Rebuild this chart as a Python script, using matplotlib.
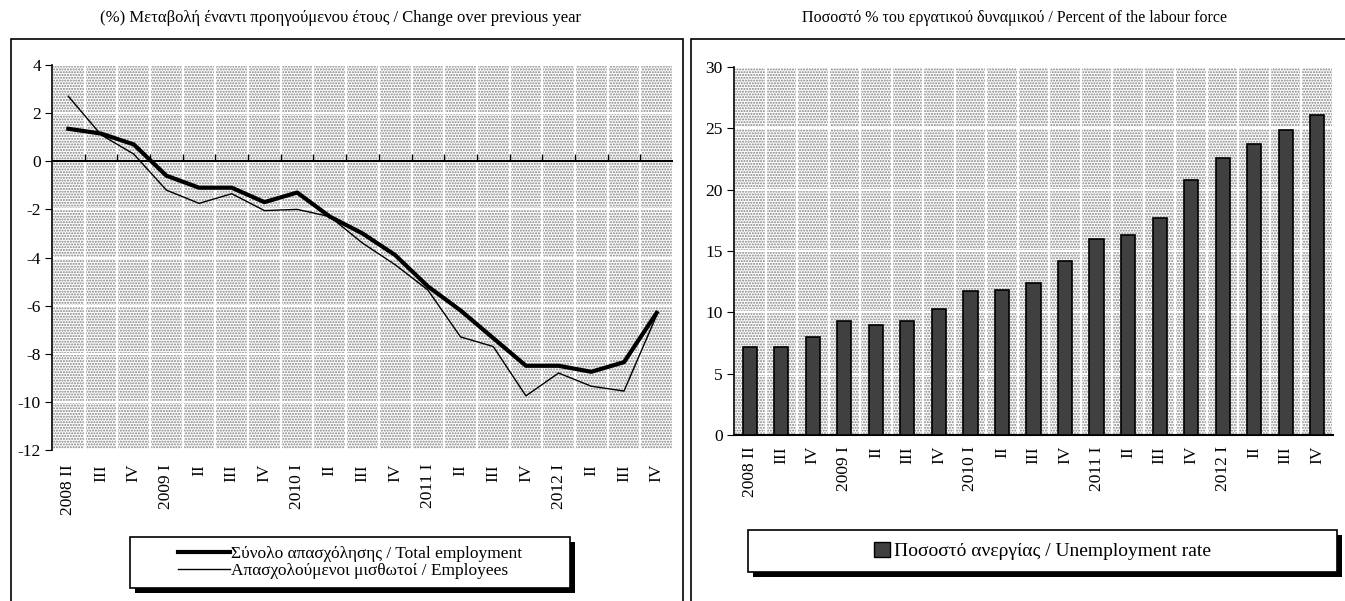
import matplotlib
matplotlib.use("Agg")
import matplotlib.pyplot as plt
from matplotlib.patches import Rectangle
from matplotlib.lines import Line2D
import numpy as np

plt.rcParams['font.family'] = ['Liberation Serif', 'DejaVu Serif']
plt.rcParams['axes.unicode_minus'] = False
plt.rcParams['hatch.linewidth'] = 1.0

# data
quarters = ["2008 II", "III", "IV", "2009 I", "II", "III", "IV", "2010 I", "II", "III", "IV",
            "2011 I", "II", "III", "IV", "2012 I", "II", "III", "IV"]
total_employment = [1.35, 1.15, 0.7, -0.6, -1.1, -1.1, -1.7, -1.3, -2.3, -3.0, -3.9,
                    -5.2, -6.2, -7.35, -8.5, -8.5, -8.75, -8.35, -6.3]
employees = [2.7, 1.1, 0.3, -1.2, -1.75, -1.35, -2.05, -2.0, -2.3, -3.4, -4.3,
             -5.35, -7.3, -7.7, -9.75, -8.8, -9.35, -9.55, -6.4]
unemployment = [7.2, 7.2, 8.0, 9.3, 9.0, 9.3, 10.3, 11.7, 11.8, 12.4, 14.2,
                16.0, 16.3, 17.7, 20.8, 22.6, 23.7, 24.9, 26.1]

left_title = "(%) Μεταβολή έναντι προηγούμενου έτους / Change over previous year"
right_title = "Ποσοστό % του εργατικού δυναμικού / Percent of the labour force"
left_labels = ["Σύνολο απασχόλησης / Total employment", "Απασχολούμενοι μισθωτοί / Employees"]
right_label = "Ποσοστό ανεργίας / Unemployment rate"

W, H = 1345, 601
fig = plt.figure(figsize=(W / 100, H / 100), dpi=100)

def px(x0, y0, x1, y1):
    # pixel box -> figure fraction [left, bottom, width, height]
    return [x0 / W, 1 - y1 / H, (x1 - x0) / W, (y1 - y0) / H]

def dotted_bg(ax, n, yticks):
    ax.set_facecolor('white')
    ax.add_patch(Rectangle((0, 0), 1, 1, transform=ax.transAxes, facecolor='white',
                           edgecolor='#808080', hatch='......', lw=0, zorder=0))
    ax.set_xticks(np.arange(n + 1) - 0.5, minor=True)
    ax.set_yticks(yticks)
    ax.set_axisbelow(True)
    ax.grid(True, which='minor', axis='x', color='white', lw=1.6)
    ax.grid(True, which='major', axis='y', color='white', lw=1.6)
    ax.tick_params(axis='x', which='minor', length=0)

x = np.arange(len(quarters))

# left chart: employment change
ax1 = fig.add_axes(px(52, 65, 673, 450))
dotted_bg(ax1, len(quarters), np.arange(-12, 5, 2))
ax1.plot(x, total_employment, color='black', lw=3, zorder=3)
ax1.plot(x, employees, color='black', lw=1, zorder=3)
ax1.axhline(0, color='black', lw=1.5, zorder=2)
ax1.vlines(np.arange(1, len(quarters)) - 0.5, 0, 0.3, color='black', lw=1, zorder=2)
ax1.set_xlim(-0.5, len(quarters) - 0.5)
ax1.set_ylim(-12, 4)
ax1.set_xticks(x)
ax1.set_xticklabels(quarters, rotation=90, fontsize=12.5)
ax1.tick_params(axis='x', which='major', length=0, pad=10)
ax1.tick_params(axis='y', direction='out', length=5, labelsize=12.5, pad=3)
for s in ['top', 'right', 'bottom']:
    ax1.spines[s].set_visible(False)
ax1.spines['left'].set_linewidth(1.2)

# right chart: unemployment rate
ax2 = fig.add_axes(px(734, 67, 1333, 435))
dotted_bg(ax2, len(quarters), np.arange(0, 31, 5))
ax2.bar(x, unemployment, width=0.45, color='#404040', edgecolor='black', lw=1.2, zorder=3)
ax2.set_xlim(-0.5, len(quarters) - 0.5)
ax2.set_ylim(0, 30)
ax2.set_xticks(x)
ax2.set_xticklabels(quarters, rotation=90, fontsize=12.5)
ax2.tick_params(axis='x', which='major', length=0, pad=8)
ax2.tick_params(axis='y', direction='out', length=5, labelsize=12.5, pad=3)
for s in ['top', 'right']:
    ax2.spines[s].set_visible(False)
ax2.spines['left'].set_linewidth(1.2)
ax2.spines['bottom'].set_linewidth(1.5)

# titles
fig.text(340 / W, 1 - 18 / H, left_title, ha='center', va='center', fontsize=12)
fig.text(1015 / W, 1 - 18 / H, right_title, ha='center', va='center', fontsize=11.5)

# panel frames
fig.add_artist(Rectangle((11 / W, -0.02), 672 / W, (H - 39) / H + 0.02, transform=fig.transFigure,
                         fill=False, edgecolor='black', lw=1.2))
fig.add_artist(Rectangle((691 / W, -0.02), 0.5, (H - 39) / H + 0.02, transform=fig.transFigure,
                         fill=False, edgecolor='black', lw=1.2))

def legend_box(x0, y0, x1, y1):
    l, b, w, h = px(x0, y0, x1, y1)
    fig.add_artist(Rectangle((l + 5 / W, b - 5 / H), w, h, transform=fig.transFigure,
                             facecolor='black', edgecolor='black', lw=0))
    fig.add_artist(Rectangle((l, b), w, h, transform=fig.transFigure,
                             facecolor='white', edgecolor='black', lw=1.2))
    return l + w / 2, b + h / 2

cx, cy = legend_box(130, 537, 570, 588)
h1 = [Line2D([], [], color='black', lw=3), Line2D([], [], color='black', lw=1)]
leg1 = fig.legend(h1, left_labels, loc='center', bbox_to_anchor=(cx, cy), frameon=False,
                  fontsize=12.5, handlelength=3.0, handletextpad=0.1, labelspacing=0.0,
                  borderpad=0)

cx, cy = legend_box(748, 530, 1337, 572)
h2 = [Rectangle((0, 0), 1, 1, facecolor='#404040', edgecolor='black', lw=1)]
leg2 = fig.legend(h2, [right_label], loc='center', bbox_to_anchor=(cx, cy), frameon=False,
                  fontsize=14, handlelength=0.8, handleheight=0.8, handletextpad=0.2,
                  borderpad=0)

fig.savefig("out.png", dpi=100)
